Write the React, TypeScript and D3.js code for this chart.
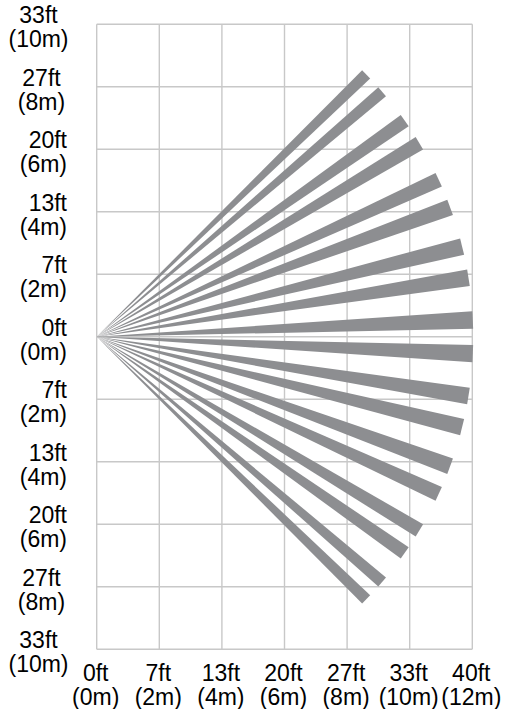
import React from "react";
import * as d3 from "d3";

const W = 507;
const H = 709;

// grid ticks (metres) and their feet labels
const xMeters = [0, 2, 4, 6, 8, 10, 12];
const xFeet = ["0ft", "7ft", "13ft", "20ft", "27ft", "33ft", "40ft"];
const yMeters = [10, 8, 6, 4, 2, 0, -2, -4, -6, -8, -10];
const yFeet = ["33ft", "27ft", "20ft", "13ft", "7ft", "0ft", "7ft", "13ft", "20ft", "27ft", "33ft"];

// detection beams: centre angle (deg) and angular width (deg), range 12 m
const beamAngles = [44.3, 40.7, 35.1, 31.0, 24.7, 20.15, 13.9, 9.05, 2.57,
  -2.57, -9.05, -13.9, -20.15, -24.7, -31.0, -35.1, -40.7, -44.3];
const beamWidths = [1.75, 1.8, 2.1, 2.2, 2.3, 2.5, 2.55, 2.55, 2.65,
  2.65, 2.55, 2.55, 2.5, 2.3, 2.2, 2.1, 1.8, 1.75];
const beamRange = 12.03;

export default function App() {
  const x = d3.scaleLinear().domain([0, 12]).range([96.7, 472.3]);
  const y = d3.scaleLinear().domain([-10, 10]).range([649.3, 24.3]);
  const font = "'Liberation Sans', Arial, Helvetica, sans-serif";
  const fs = 23;
  const gap = 24;
  const gridColor = "#c8c8c8";
  const beamColor = "#8d8e91";

  const rad = (d: number) => (d * Math.PI) / 180;
  const beamPath = (a: number, w: number) => {
    const a1 = rad(a + w / 2);
    const a2 = rad(a - w / 2);
    const p = d3.path();
    p.moveTo(x(0), y(0));
    p.lineTo(x(beamRange * Math.cos(a1)), y(beamRange * Math.sin(a1)));
    p.lineTo(x(beamRange * Math.cos(a2)), y(beamRange * Math.sin(a2)));
    p.closePath();
    return p.toString();
  };

  return (
    <svg
      width={W}
      height={H}
      style={{ position: "absolute", left: 0, top: 0, background: "#fff" }}
      fontFamily={font}
      fontSize={fs}
    >
      <rect x={0} y={0} width={W} height={H} fill="#fff" />
      {/* grid */}
      <g stroke={gridColor} strokeWidth={1.4} fill="none">
        {xMeters.map((m) => (
          <line key={"vx" + m} x1={x(m)} x2={x(m)} y1={y(10)} y2={y(-10)} />
        ))}
        {yMeters.map((m) => (
          <line key={"hy" + m} x1={x(0)} x2={x(12)} y1={y(m)} y2={y(m)} />
        ))}
      </g>
      {/* beams */}
      <g fill={beamColor} stroke="none">
        {beamAngles.map((a, i) => (
          <path key={"b" + i} d={beamPath(a, beamWidths[i])} />
        ))}
      </g>
      {/* y labels */}
      <g fill="#000">
        {yMeters.map((m, i) => {
          const wide = Math.abs(m) >= 8;
          const tx = wide ? (Math.abs(m) === 10 ? 38.5 : 41.5) : 67;
          const anchor = wide ? "middle" : "end";
          const by = y(m) - 1;
          return (
            <g key={"yl" + i}>
              <text x={tx} y={by} textAnchor={anchor}>{yFeet[i]}</text>
              <text x={tx} y={by + gap} textAnchor={anchor}>{"(" + Math.abs(m) + "m)"}</text>
            </g>
          );
        })}
      </g>
      {/* x labels */}
      <g fill="#000">
        {xMeters.map((m, i) => {
          const tx = x(m) - 1;
          const by = y(-10) + 32;
          return (
            <g key={"xl" + i}>
              <text x={tx} y={by} textAnchor="middle">{xFeet[i]}</text>
              <text x={tx} y={by + gap} textAnchor="middle">{"(" + m + "m)"}</text>
            </g>
          );
        })}
      </g>
    </svg>
  );
}
